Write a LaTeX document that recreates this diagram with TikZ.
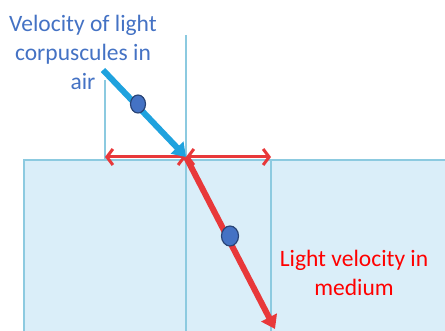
\documentclass[tikz,border=0pt]{standalone}
\usepackage{fontspec}
\setmainfont{Carlito}
\usetikzlibrary{arrows.meta,shapes.geometric}

\definecolor{medfill}{HTML}{DAEEF9}
\definecolor{medline}{HTML}{8CCAE0}
\definecolor{airblue}{HTML}{1FA2DE}
\definecolor{velred}{HTML}{E8383A}
\definecolor{dotblue}{HTML}{4472C4}
\definecolor{txtblue}{HTML}{4472C4}

\begin{document}
\begin{tikzpicture}[x=1pt, y=-1pt,
    guide/.style={draw=medline, line width=1.2pt},
    vel/.style={line width=6pt, -{Triangle[length=13pt, width=17pt]}},
    comp/.style={draw=velred, line width=3pt, {Straight Barb[length=6pt, width=16pt]}-{Straight Barb[length=6pt, width=16pt]}},
    dot/.style={ellipse, draw=dotblue!60!black, line width=1.2pt, fill=dotblue, minimum width=15pt, minimum height=18pt, inner sep=0pt},
    lbl/.style={font=\fontsize{23.5}{29}\selectfont, align=center, inner sep=0pt}
]
\useasboundingbox (0,0) rectangle (445,331);

% medium
\fill[medfill] (24,160) rectangle (450,336);
\draw[medline, line width=1.5pt] (24,336) -- (24,160) -- (450,160);

% normal and helper lines
\coordinate (O) at (186,157);
\coordinate (ntop) at (186,35);
\coordinate (nbot) at (186,331);
\draw[guide] (ntop) -- (nbot);
\draw[guide] (105,80) -- (105,160);
\draw[guide] (271,160) -- (271,331);

\coordinate (src) at (103,70);
\coordinate (dst) at (275,329);
\coordinate (L) at (105,157);
\coordinate (R) at (271,157);

% horizontal components
\draw[comp] (L) -- (O);
\draw[comp] (O) -- (R);

% velocities
\draw[vel, airblue] (src) -- (O);
\draw[vel, velred] (O) -- (dst);

\node[dot] (p1) at (138,104) {};
\node[dot, minimum width=17pt, minimum height=20pt] (p2) at (230,236) {};

\node[lbl, text=txtblue] (tair) at (83,52) {Velocity of light\\corpuscules in\\air};
\node[lbl, text=red] (tmed) at (354,273) {Light velocity in\\medium};
\end{tikzpicture}
\end{document}
